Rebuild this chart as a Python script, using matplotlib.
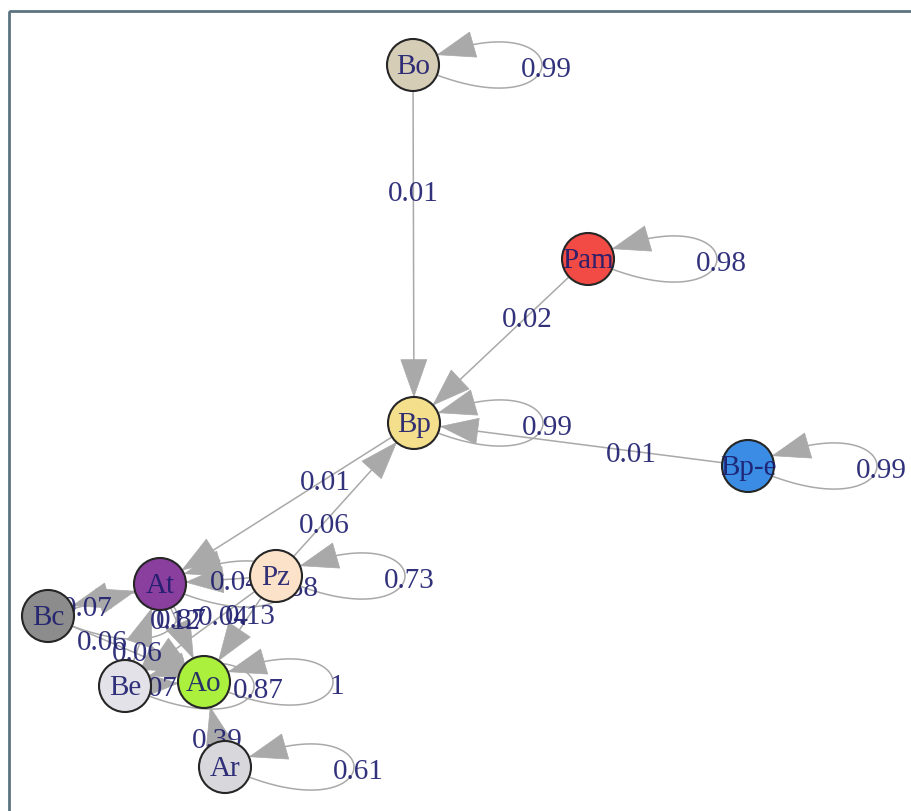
import matplotlib
matplotlib.use('Agg')
import matplotlib.pyplot as plt
from matplotlib.patches import Circle, Polygon, Rectangle
import numpy as np

# states of the chain and where the layout put them (pixel space, y down)
nodes = ['Bo', 'Pam', 'Bp', 'Bp-e', 'At', 'Pz', 'Bc', 'Be', 'Ao', 'Ar']
node_x = [413, 588, 414, 748, 160, 276, 48, 125, 204, 225]
node_y = [66, 260, 424, 467, 585, 577, 617, 687, 683, 768]
node_colors = ['#d6cdb6', '#f24a44', '#f4df8c', '#3a8ce4', '#8a3e9e',
               '#fbe2c8', '#8c8c8c', '#e2e2e8', '#aaf03c', '#d8d8dc']

# transitions between different states
edge_from = ['Bo', 'Pam', 'Bp-e', 'Bp', 'Pz', 'Pz', 'Pz', 'Pz',
             'Bc', 'Bc', 'Be', 'Be', 'At', 'Ar']
edge_to = ['Bp', 'Bp', 'Bp', 'At', 'Bp', 'At', 'Ao', 'Be',
           'At', 'Ao', 'At', 'Ao', 'Ao', 'Ao']
edge_prob = [0.01, 0.02, 0.01, 0.01, 0.06, 0.04, 0.13, 0.04,
             0.07, 0.06, 0.06, 0.07, 0.12, 0.39]

# self transitions
loop_nodes = ['Bo', 'Pam', 'Bp', 'Bp-e', 'Pz', 'At', 'Bc', 'Be', 'Ao', 'Ar']
loop_prob = [0.99, 0.98, 0.99, 0.99, 0.73, 0.88, 0.87, 0.87, 1, 0.61]

R = 26          # vertex radius
ARROW_L = 37
ARROW_W = 26
EDGE_COL = '#a9a9a9'
TEXT_COL = '#1c1c6e'
FONT = 'Liberation Serif'
FS = 21

pos = {n: (x, y) for n, x, y in zip(nodes, node_x, node_y)}


def arrow_head(ax, xs, ys, cx, cy):
    # tip = last point of the path that is still outside the target circle
    d = np.hypot(xs - cx, ys - cy)
    idx = np.where(d >= R)[0][-1]
    tip = np.array([xs[idx], ys[idx]])
    # walk back along the path to find the base
    acc = 0.0
    j = idx
    while j > 0 and acc < ARROW_L:
        acc += np.hypot(xs[j] - xs[j - 1], ys[j] - ys[j - 1])
        j -= 1
    back = np.array([xs[j], ys[j]])
    u = (tip - back) / np.linalg.norm(tip - back)
    base = tip - u * ARROW_L
    p = np.array([-u[1], u[0]])
    tri = [tip, base + p * ARROW_W / 2, base - p * ARROW_W / 2]
    ax.add_patch(Polygon(tri, closed=True, facecolor=EDGE_COL,
                         edgecolor=EDGE_COL, lw=0.5, zorder=2))
    ax.plot(xs[:idx + 1], ys[:idx + 1], color=EDGE_COL, lw=1.1, zorder=1)


fig = plt.figure(figsize=(9.12, 8.12), dpi=100)
ax = fig.add_axes([0, 0, 1, 1])
ax.set_xlim(0, 912)
ax.set_ylim(812, 0)
ax.axis('off')

# frame of the plotting device
ax.add_patch(Rectangle((9, 12), 910, 810, fill=False, edgecolor='#5c7480',
                       lw=2.0, zorder=0))

# straight edges
for s, t, p in zip(edge_from, edge_to, edge_prob):
    x0, y0 = pos[s]
    x1, y1 = pos[t]
    tt = np.linspace(0, 1, 300)
    xs = x0 + (x1 - x0) * tt
    ys = y0 + (y1 - y0) * tt
    arrow_head(ax, xs, ys, x1, y1)
    lx = x0 + (x1 - x0) * 0.35
    ly = y0 + (y1 - y0) * 0.35
    ax.text(lx, ly + 3, f'{p:g}', ha='center', va='center', fontsize=FS,
            family=FONT, color=TEXT_COL, alpha=0.9, zorder=3)

# loops, all opening to the right
for n, p in zip(loop_nodes, loop_prob):
    cx, cy = pos[n]
    tt = np.linspace(0, 1, 400)
    xs = cx + 3 * tt * (1 - tt) * 172
    ys = cy + 3 * tt * (1 - tt) * (1 - 2 * tt) * 80
    arrow_head(ax, xs, ys, cx, cy)
    ax.text(cx + 133, cy + 4, f'{p:g}', ha='center', va='center', fontsize=FS,
            family=FONT, color=TEXT_COL, alpha=0.9, zorder=3)

# vertices on top
for n, c in zip(nodes, node_colors):
    x, y = pos[n]
    ax.add_patch(Circle((x, y), R, facecolor=c, edgecolor='#262626',
                        lw=1.5, zorder=4))
    ax.text(x, y + 1, n, ha='center', va='center', fontsize=FS, family=FONT,
            color=TEXT_COL, alpha=0.9, zorder=5)

plt.savefig('out.png', dpi=100, facecolor='white')
plt.close()
